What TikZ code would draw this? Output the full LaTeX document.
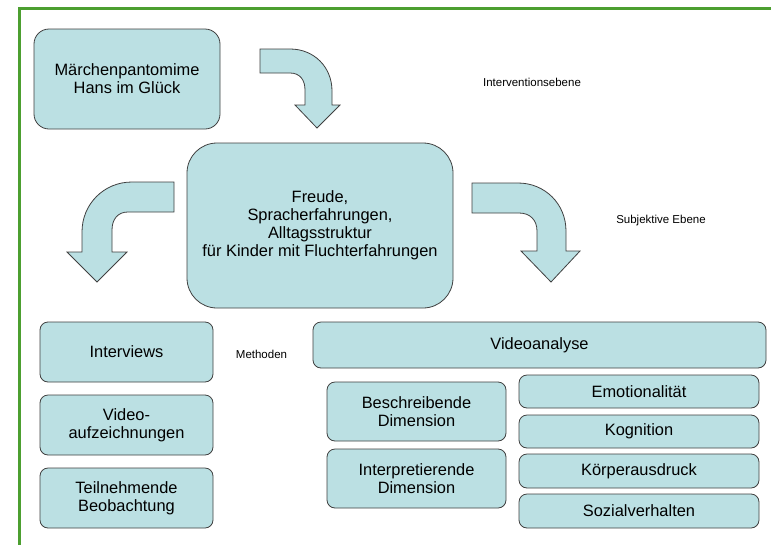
\documentclass[tikz,border=0pt]{standalone}
\usepackage{fontspec}
\setmainfont{Liberation Sans}
\definecolor{boxfill}{HTML}{BBE0E3}
\definecolor{boxline}{HTML}{404040}
\definecolor{framegreen}{HTML}{4C9F30}
\begin{document}
\begin{tikzpicture}[x=1pt,y=-1pt,
  box/.style={draw=boxline,fill=boxfill,line width=0.8pt,rounded corners=8pt,
    align=center,inner sep=0pt,font=\fontsize{16.4}{18}\selectfont},
  blockarrow/.style={draw=boxline,fill=boxfill,line width=0.8pt,line join=miter},
  lbl/.style={font=\fontsize{11.5}{13}\selectfont,inner sep=0pt}]
\useasboundingbox (0,0) rectangle (771,544);
\fill[white] (0,0) rectangle (771,544);
% frame
\draw[framegreen,line width=3pt] (19,545) -- (19,8) -- (772,8);

% nodes
\node[box,rounded corners=15pt,minimum width=186pt,minimum height=100pt] (maerchen) at (127,79) {Märchenpantomime\\Hans im Glück};
\node[box,rounded corners=30pt,minimum width=266pt,minimum height=165pt] (freude) at (320,225.5) {Freude,\\Spracherfahrungen,\\Alltagsstruktur\\für Kinder mit Fluchterfahrungen};

\node[box,minimum width=173pt,minimum height=60pt] (interviews) at (126.5,352) {Interviews};
\node[box,minimum width=173pt,minimum height=60pt] (video) at (126.5,425) {Video-\\aufzeichnungen};
\node[box,minimum width=173pt,minimum height=60pt] (teil) at (126.5,498) {Teilnehmende\\Beobachtung};

\node[box,minimum width=453pt,minimum height=46pt] (videoanalyse) at (539.5,345) {Videoanalyse};
\node[box,minimum width=179pt,minimum height=59pt] (beschr) at (416.5,411.5) {Beschreibende\\Dimension};
\node[box,minimum width=179pt,minimum height=59pt] (interp) at (416.5,478.5) {Interpretierende\\Dimension};

\node[box,minimum width=240pt,minimum height=33pt] (emo) at (639,391.5) {Emotionalität};
\node[box,minimum width=240pt,minimum height=33pt] (kog) at (639,431.5) {Kognition};
\node[box,minimum width=240pt,minimum height=34pt] (koerper) at (639,471) {Körperausdruck};
\node[box,minimum width=240pt,minimum height=34pt] (sozial) at (639,511) {Sozialverhalten};

% labels
\node[lbl] (intervention) at (532,82) {Interventionsebene};
\node[lbl] (subjektiv) at (661,221) {Subjektive Ebene};
\node[lbl] (methoden) at (261.5,354) {Methoden};

% block arrows
\draw[blockarrow] (260,49) -- (290,49) .. controls (314,49) and (332,67) .. (332,91)
  -- (332,105) -- (340,105) -- (317,128) -- (295,105) -- (305,105) -- (305,90)
  .. controls (305,80) and (300,73) .. (290,73) -- (260,73) -- cycle;

\draw[blockarrow] (174,182) -- (132,182) .. controls (104,182) and (82,204) .. (82,232)
  -- (82,252) -- (67,252) -- (97,282) -- (127,252) -- (112,252) -- (112,230)
  .. controls (112,219) and (118,212) .. (128,212) -- (174,212) -- cycle;

\draw[blockarrow] (472,183) -- (518,183) .. controls (545,183) and (566,204) .. (566,231)
  -- (566,251) -- (580,251) -- (551,282) -- (521,251) -- (537,251) -- (537,231)
  .. controls (537,220) and (530,213) .. (519,213) -- (472,213) -- cycle;
\end{tikzpicture}
\end{document}
